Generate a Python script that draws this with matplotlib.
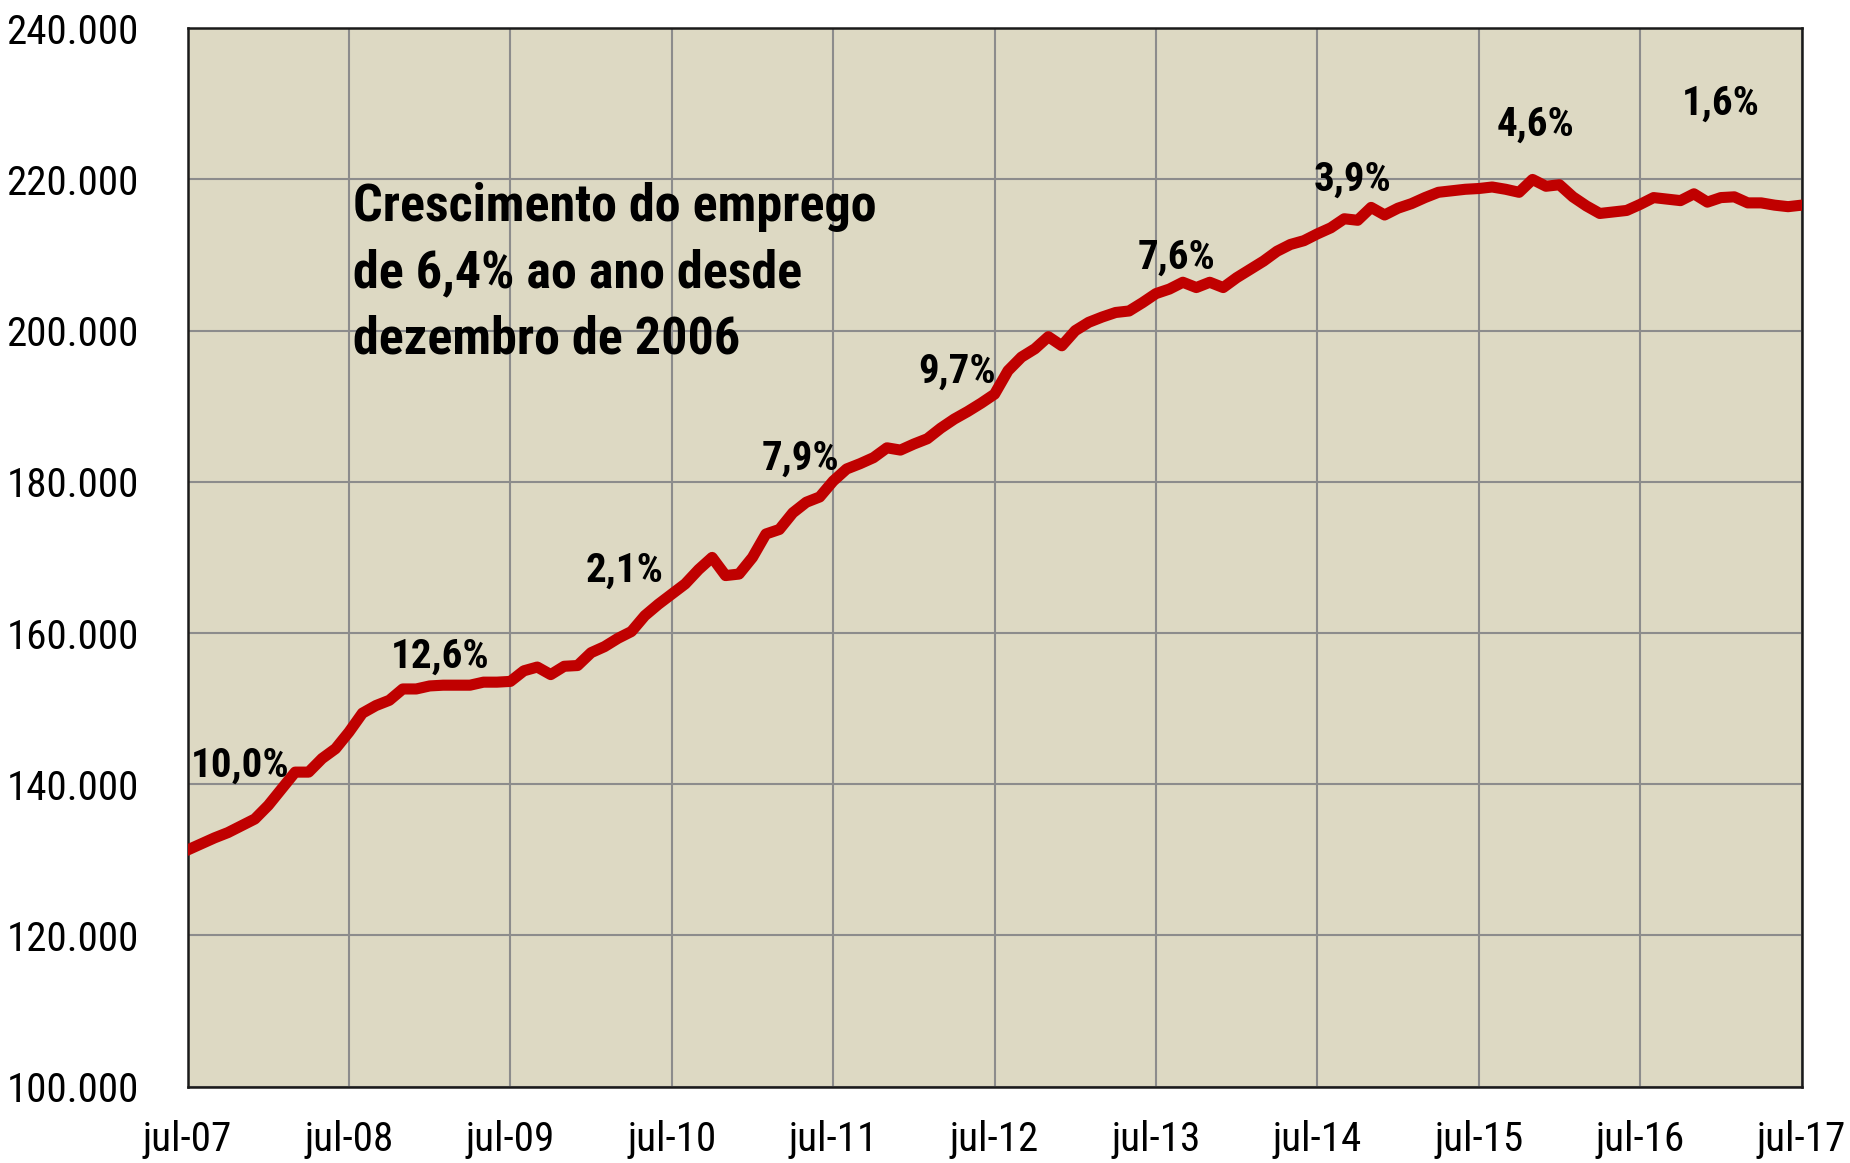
import numpy as np
import matplotlib
matplotlib.use("Agg")
import matplotlib.pyplot as plt
from matplotlib.ticker import FuncFormatter

plt.rcParams['font.family'] = ['Roboto Condensed', 'PT Sans Narrow', 'DejaVu Sans']

# Emprego mensal, jul-07 a jul-17
emprego = [
    131300, 132100, 132900, 133600, 134500, 135400, 137200, 139400, 141600, 141600,
    143400, 144700, 146900, 149400, 150400, 151100, 152600, 152600, 153000, 153100,
    153100, 153100, 153500, 153500, 153600, 155000, 155500, 154500, 155600, 155700,
    157400, 158200, 159300, 160200, 162300, 163800, 165150, 166500, 168400, 170000,
    167600, 167800, 170000, 173100, 173700, 175900, 177300, 178000, 180100, 181700,
    182400, 183200, 184500, 184200, 185000, 185700, 187100, 188300, 189300, 190400,
    191600, 194700, 196500, 197600, 199200, 198000, 200000, 201100, 201800, 202400,
    202600, 203700, 204900, 205500, 206400, 205700, 206400, 205700, 207000, 208100,
    209200, 210500, 211400, 211900, 212800, 213600, 214800, 214600, 216300, 215300,
    216200, 216800, 217600, 218300, 218500, 218700, 218800, 219000, 218700, 218300,
    220000, 219100, 219300, 217700, 216500, 215500, 215700, 215900, 216700, 217600,
    217400, 217200, 218100, 217000, 217600, 217700, 216900, 216900, 216600, 216400,
    216600,
]
rotulos_x = ['jul-07', 'jul-08', 'jul-09', 'jul-10', 'jul-11', 'jul-12',
             'jul-13', 'jul-14', 'jul-15', 'jul-16', 'jul-17']

# Crescimento anual e posicao (mes, valor) de cada rotulo
taxas = ['10,0%', '12,6%', '2,1%', '7,9%', '9,7%', '7,6%', '3,9%', '4,6%', '1,6%']
taxas_mes = [3.9, 18.8, 32.5, 45.6, 57.2, 73.5, 86.6, 100.2, 114.0]
taxas_valor = [142400, 156900, 168200, 183000, 194500, 209700, 219900, 227200, 230000]

texto = 'Crescimento do emprego\nde 6,4% ao ano desde\ndezembro de 2006'

meses = np.arange(len(emprego))

fig = plt.figure(figsize=(18.5, 11.63), dpi=100)
ax = fig.add_axes([0.1014, 0.0657, 0.8724, 0.91])
ax.set_facecolor('#DDD9C3')

ax.plot(meses, emprego, color='#C00000', lw=8, zorder=3)

ax.set_xlim(0, 120)
ax.set_ylim(100000, 240000)
ax.set_xticks(np.arange(0, 121, 12))
ax.set_xticklabels(rotulos_x)
ax.set_yticks(np.arange(100000, 240001, 20000))
ax.yaxis.set_major_formatter(FuncFormatter(lambda v, p: f'{v:,.0f}'.replace(',', '.')))

ax.grid(True, color='#8C8C8C', lw=1.5, zorder=1)
ax.tick_params(axis='both', length=0, labelsize=29.5)
ax.tick_params(axis='x', pad=24)
ax.tick_params(axis='y', pad=35)
for s in ax.spines.values():
    s.set_color('#1A1A1A')
    s.set_linewidth(1.8)

for t, m, v in zip(taxas, taxas_mes, taxas_valor):
    ax.text(m, v, t, fontsize=29.5, fontweight='bold', ha='center', va='center', zorder=4)

ax.text(12.3, 207600, texto, fontsize=37.5, fontweight='bold', ha='left', va='center',
        linespacing=1.42, zorder=4)

fig.savefig('out.png', dpi=100)
